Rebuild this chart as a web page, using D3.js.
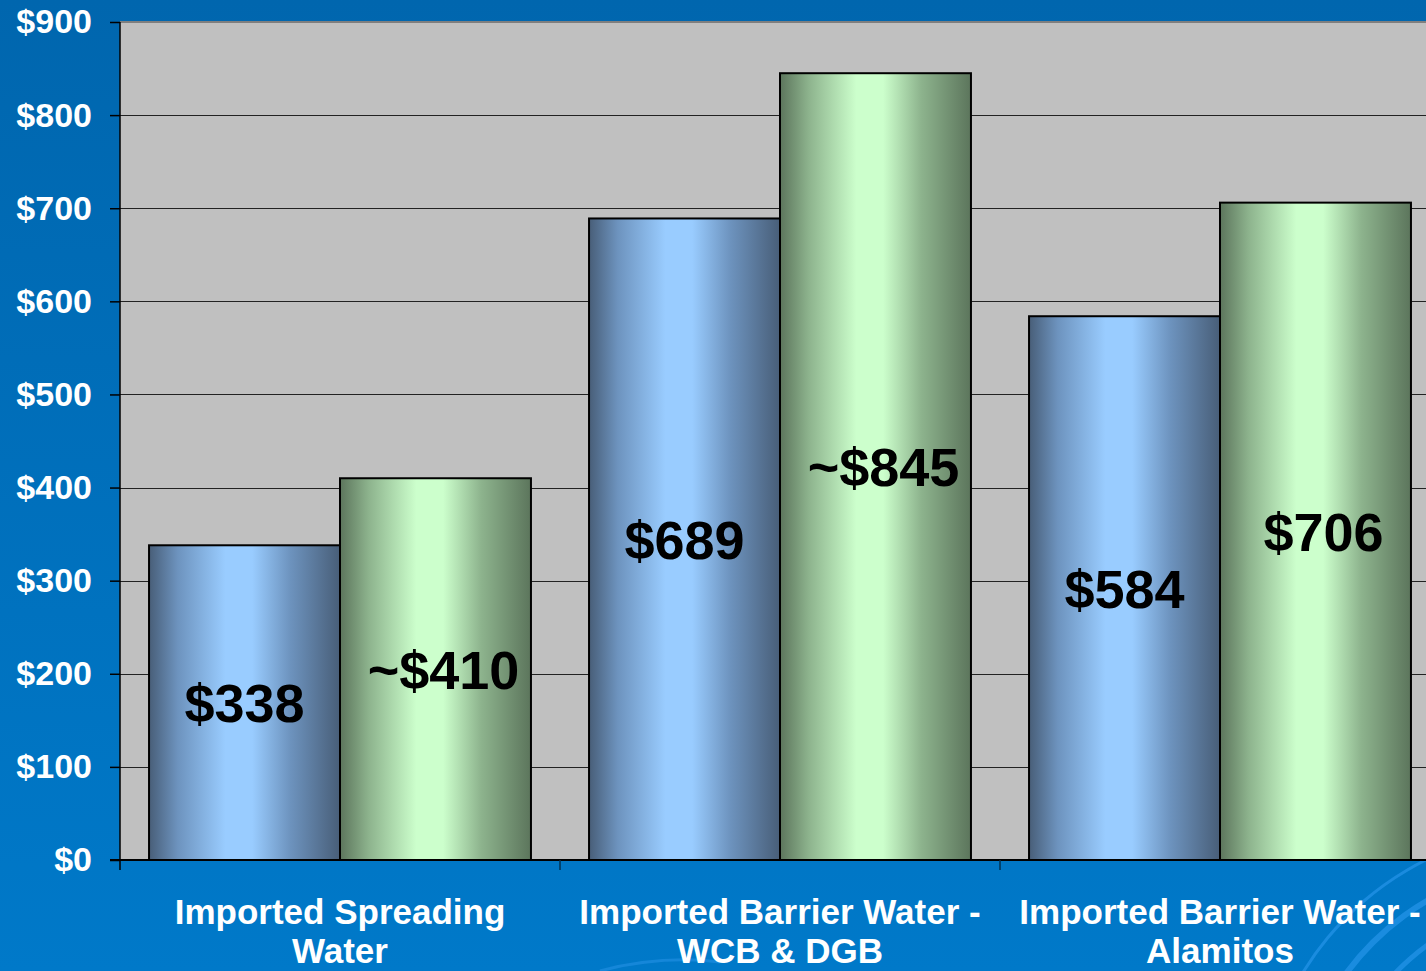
<!DOCTYPE html>
<html>
<head>
<meta charset="utf-8">
<script src="https://cdn.jsdelivr.net/npm/d3@7"></script>
<style>
  html, body { margin: 0; padding: 0; background: #0070bd; overflow: hidden; }
  svg { display: block; }
  text { font-family: "Liberation Sans", Arial, sans-serif; font-weight: bold; }
</style>
</head>
<body>
<script>
// Cost per acre-foot by water source
const categories = [
  ["Imported Spreading", "Water"],
  ["Imported Barrier Water -", "WCB & DGB"],
  ["Imported Barrier Water -", "Alamitos"]
];
const currentCost = [338, 689, 584];
const projectedCost = [410, 845, 706];
const projectedApprox = [true, true, false];
const yTicks = [0, 100, 200, 300, 400, 500, 600, 700, 800, 900];

const W = 1426, H = 971;
const plot = { left: 120, right: 1440, top: 22, bottom: 860 };

const svg = d3.select("body").append("svg").attr("width", W).attr("height", H);
const defs = svg.append("defs");

// Page background
const bg = defs.append("linearGradient").attr("id", "bg").attr("x1", 0).attr("y1", 0).attr("x2", 0).attr("y2", 1);
bg.append("stop").attr("offset", 0).attr("stop-color", "#0066ae");
bg.append("stop").attr("offset", 1).attr("stop-color", "#0079c9");
svg.append("rect").attr("width", W).attr("height", H).attr("fill", "url(#bg)");

// Faint decorative swirls in the lower right corner
const swirl = svg.append("g");
[[300, 3, 0.06], [262, 6, 0.1], [225, 5, 0.14], [190, 9, 0.2]].forEach(([r, w, end]) => {
  const arc = d3.arc().innerRadius(r).outerRadius(r + w)
    .startAngle(-Math.PI * 0.5).endAngle(-Math.PI * end);
  swirl.append("path").attr("transform", "translate(1560,1130)").attr("d", arc())
    .attr("fill", "#2c9aee").attr("fill-opacity", 0.6);
});
svg.append("path").attr("d", "M 600 971 Q 660 955 720 962").attr("fill", "none")
  .attr("stroke", "#2a96ea").attr("stroke-opacity", 0.5).attr("stroke-width", 3);

// Bar gradients: darker edges, bright centre
function barGradient(id, edge, mid, centre) {
  const g = defs.append("linearGradient").attr("id", id).attr("x1", 0).attr("y1", 0).attr("x2", 1).attr("y2", 0);
  [[0, edge], [0.15, mid], [0.4, centre], [0.54, centre], [0.74, mid], [1, edge]]
    .forEach(([o, c]) => g.append("stop").attr("offset", o).attr("stop-color", c));
}
barGradient("gBlue", "#485e78", "#6d93be", "#99ccff");
barGradient("gGreen", "#5c755c", "#8db38d", "#ccffcc");

const x0 = d3.scaleBand().domain(d3.range(categories.length)).range([plot.left, plot.right])
  .paddingInner(0.132).paddingOuter(0.066);
const x1 = d3.scaleBand().domain([0, 1]).range([0, x0.bandwidth()]);
const y = d3.scaleLinear().domain([0, 900]).range([plot.bottom, plot.top]);

// Plot area
svg.append("rect").attr("x", plot.left).attr("y", plot.top)
  .attr("width", plot.right - plot.left).attr("height", plot.bottom - plot.top).attr("fill", "#c0c0c0");
svg.append("line").attr("x1", plot.left).attr("x2", plot.right).attr("y1", plot.top).attr("y2", plot.top)
  .attr("stroke", "#7f7f7f").attr("stroke-width", 2);

// Gridlines
svg.append("g").selectAll("line").data(yTicks.filter(d => d > 0 && d < 900)).join("line")
  .attr("x1", plot.left).attr("x2", plot.right)
  .attr("y1", d => Math.round(y(d)) + 0.5).attr("y2", d => Math.round(y(d)) + 0.5)
  .attr("stroke", "#222").attr("stroke-width", 1);

// Bars
const series = [
  { values: currentCost, fill: "url(#gBlue)" },
  { values: projectedCost, fill: "url(#gGreen)" }
];
const bars = svg.append("g");
series.forEach((s, si) => {
  bars.selectAll(null).data(s.values).join("rect")
    .attr("x", (d, i) => x0(i) + x1(si))
    .attr("y", d => y(d))
    .attr("width", x1.bandwidth())
    .attr("height", d => y(0) - y(d))
    .attr("fill", s.fill)
    .attr("stroke", "#000").attr("stroke-width", 2);
});

// Value labels in the middle of each bar
series.forEach((s, si) => {
  svg.append("g").selectAll("text").data(s.values).join("text")
    .attr("x", (d, i) => x0(i) + x1(si) + x1.bandwidth() / 2 + (si === 1 ? 8 : 0))
    .attr("y", d => (y(d) + y(0)) / 2)
    .attr("dy", "0.36em")
    .attr("text-anchor", "middle")
    .attr("font-size", 54)
    .attr("fill", "#000")
    .text((d, i) => (si === 1 && projectedApprox[i] ? "~" : "") + "$" + d);
});

// Y axis
const yAxis = d3.axisLeft(y).tickValues(yTicks).tickSize(10).tickPadding(18)
  .tickFormat(d => "$" + d);
const gy = svg.append("g").attr("transform", `translate(${plot.left},0)`).call(yAxis);
gy.select(".domain").remove();
gy.selectAll(".tick line").attr("stroke", "#000").attr("stroke-width", 1.5);
gy.selectAll(".tick text").attr("fill", "#fff").attr("font-size", 34)
  .attr("font-family", "'Liberation Sans', Arial, sans-serif").attr("font-weight", "bold");
svg.append("line").attr("x1", plot.left).attr("x2", plot.left).attr("y1", plot.top).attr("y2", plot.bottom + 10)
  .attr("stroke", "#000").attr("stroke-width", 1.5);

// X axis line and category separators
svg.append("line").attr("x1", plot.left - 10).attr("x2", plot.right).attr("y1", plot.bottom).attr("y2", plot.bottom)
  .attr("stroke", "#000").attr("stroke-width", 2);
const sepScale = d3.scaleLinear().domain([0, categories.length]).range([plot.left, plot.right]);
svg.append("g").selectAll("line").data(d3.range(1, categories.length)).join("line")
  .attr("x1", d => sepScale(d)).attr("x2", d => sepScale(d))
  .attr("y1", plot.bottom).attr("y2", plot.bottom + 10)
  .attr("stroke", "#003050").attr("stroke-width", 1.5);

// Category labels
const cat = svg.append("g").selectAll("text").data(categories).join("text")
  .attr("x", (d, i) => x0(i) + x0.bandwidth() / 2)
  .attr("y", 924)
  .attr("text-anchor", "middle")
  .attr("font-size", 35)
  .attr("fill", "#fff");
cat.selectAll("tspan").data(d => d).join("tspan")
  .attr("x", function() { return d3.select(this.parentNode).attr("x"); })
  .attr("dy", (d, i) => i === 0 ? 0 : 39)
  .text(d => d);
</script>
</body>
</html>
